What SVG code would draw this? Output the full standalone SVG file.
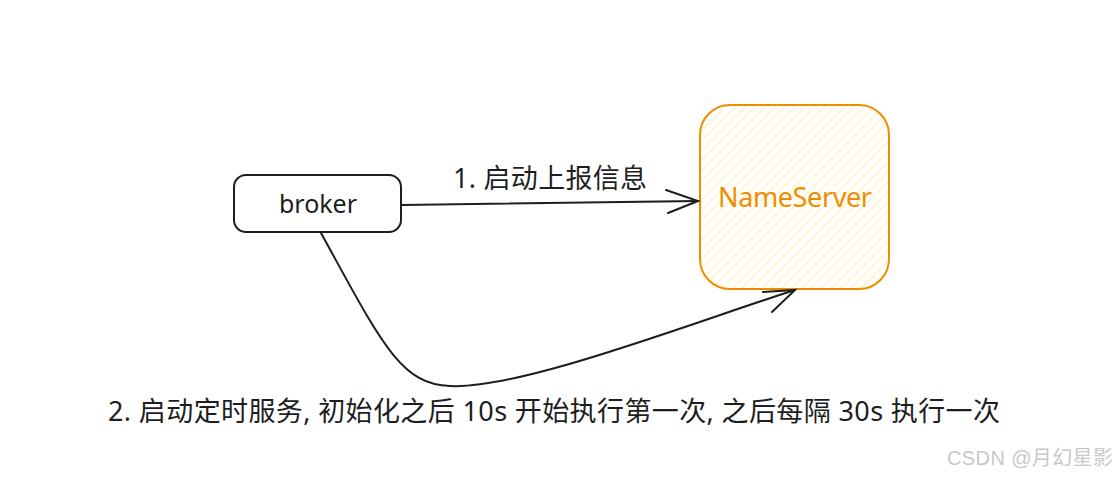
<svg xmlns="http://www.w3.org/2000/svg" width="1120" height="477" viewBox="0 0 1120 477">
<defs>
<pattern id="hatch" patternUnits="userSpaceOnUse" width="7" height="7" patternTransform="rotate(45)">
<line x1="0" y1="0" x2="0" y2="7" stroke="#ffec99" stroke-width="1.6"/>
</pattern>
<style>
.lbl{font-family:"Noto Sans","Noto Sans CJK SC",sans-serif;font-size:27px;fill:#1e1e1e}
.ln{fill:none;stroke:#1e1e1e;stroke-width:2;stroke-linecap:round}
</style>
</defs>
<rect width="1120" height="477" fill="#ffffff"/>
<g id="broker">
<rect x="234" y="175" width="167" height="57" rx="12" fill="#ffffff" stroke="#1e1e1e" stroke-width="2"/>
<text x="318" y="213" text-anchor="middle" style="font-family:'Noto Sans',sans-serif;font-size:25px;fill:#1e1e1e" textLength="78">broker</text>
</g>
<g id="nameserver">
<rect x="700" y="105" width="189" height="184" rx="30" fill="url(#hatch)" stroke="#f08c00" stroke-width="2"/>
<text x="795" y="207" text-anchor="middle" style="font-family:'Noto Sans',sans-serif;font-size:27px;fill:#f08c00" textLength="154">NameServer</text>
</g>
<g id="connectors">
<path class="ln" d="M402 205 L698 201"/>
<path class="ln" d="M666 190 L698 201 L668 213"/>
<path class="ln" d="M321 233 C380 340 400 385 450 386 C520 390 700 320 795 290"/>
<path class="ln" d="M763 292 L795 290 L772 312"/>
</g>
<g id="labels">
<text x="453" y="188" class="lbl" textLength="194">1. 启动上报信息</text>
<text x="108" y="421" class="lbl" textLength="892">2. 启动定时服务, 初始化之后 10s 开始执行第一次, 之后每隔 30s 执行一次</text>
</g>
<text x="947" y="465" style="font-family:'Liberation Sans','Noto Sans CJK SC',sans-serif;font-size:20px;fill:#c8c8c8" textLength="166">CSDN @月幻星影</text>
</svg>
